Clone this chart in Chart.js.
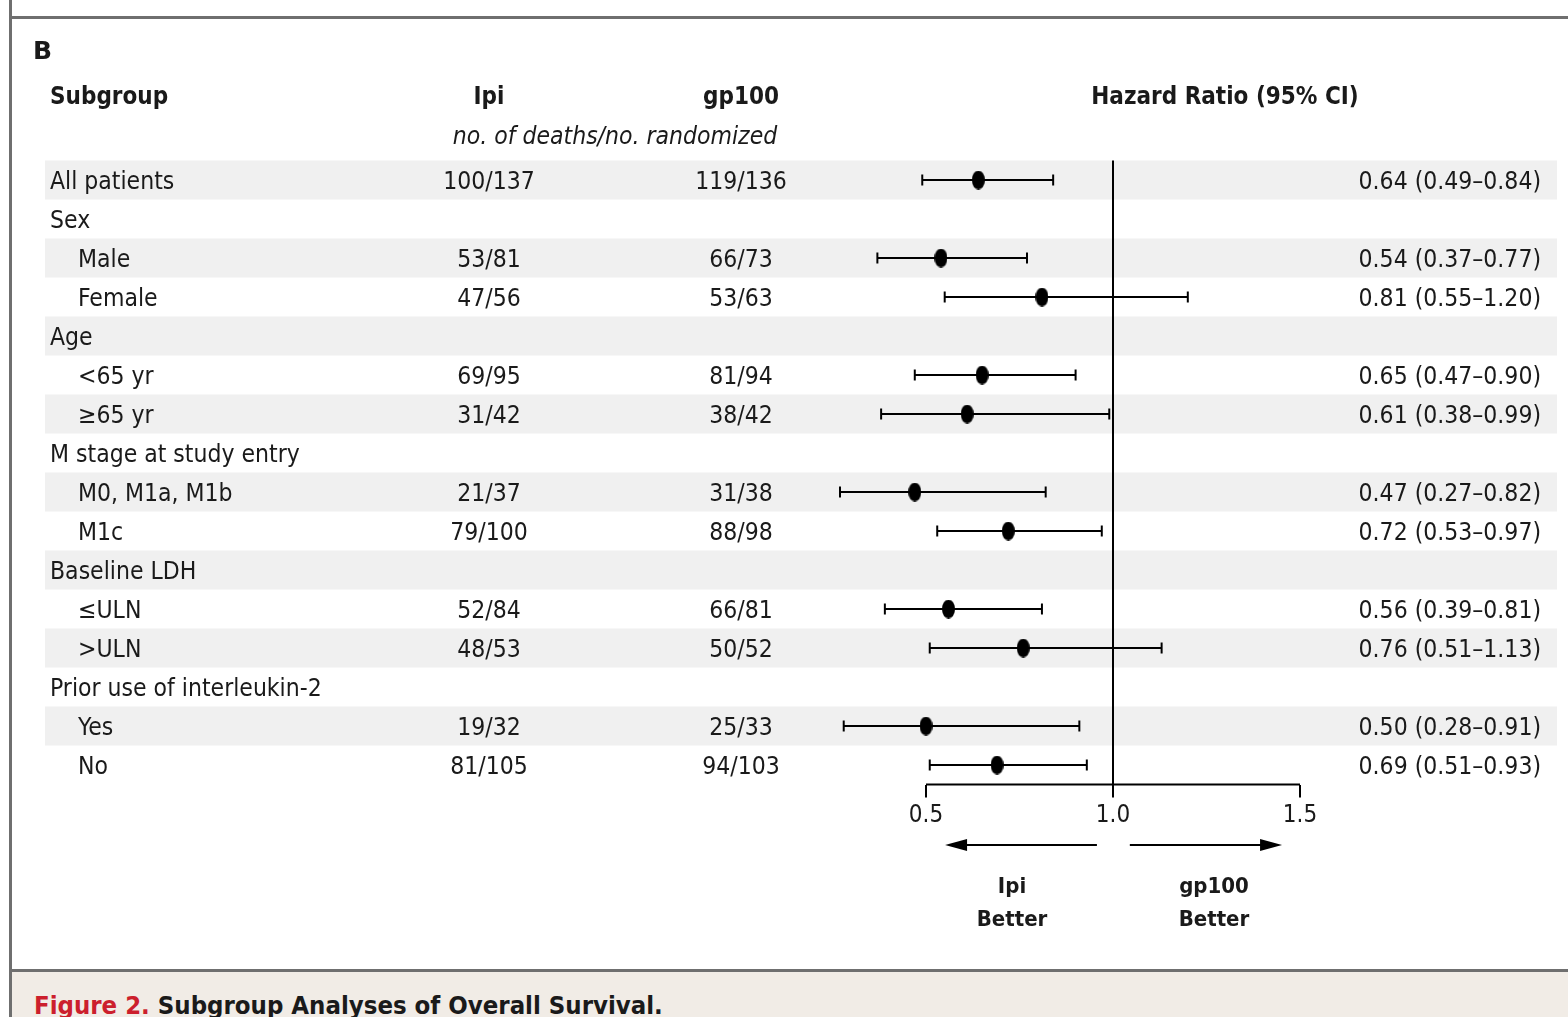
<!DOCTYPE html>
<html>
<head>
<meta charset="utf-8">
<title>Subgroup Analyses of Overall Survival</title>
<script src="https://cdn.jsdelivr.net/npm/chart.js@4.4.1/dist/chart.umd.min.js"></script>
<style>
  html, body { margin: 0; padding: 0; background: #fff; }
  body { width: 1568px; height: 1017px; position: relative; overflow: hidden; }
  .rule-left { position: absolute; left: 9px; top: 0; width: 3px; height: 1017px; background: #6f6f6f; }
  .rule-top { position: absolute; left: 9px; right: 0; top: 16px; height: 3px; background: #6f6f6f; }
  .caption {
    position: absolute; left: 12px; right: 0; top: 969px; bottom: 0;
    background: #f1ece6; border-top: 3px solid #6f6f6f;
  }
  .caption p {
    position: absolute; left: 22px; top: 20px; margin: 0;
    font: bold 25.5px/26px "DejaVu Sans Condensed", "DejaVu Sans", sans-serif;
    color: #1a1a1a; white-space: nowrap;
  }
  .caption .fig { color: #cc1f2d; }
  #forest { position: absolute; left: 0; top: 0; }
</style>
</head>
<body>
<div class="rule-left"></div>
<div class="rule-top"></div>
<div class="caption"><p><span class="fig">Figure 2.</span> Subgroup Analyses of Overall Survival.</p></div>
<canvas id="forest" width="1568" height="1017"></canvas>

<script>
// table rows, top to bottom
const subgroups = [
  'All patients', 'Sex', 'Male', 'Female', 'Age', '<65 yr', '\u226565 yr',
  'M stage at study entry', 'M0, M1a, M1b', 'M1c', 'Baseline LDH',
  '\u2264ULN', '>ULN', 'Prior use of interleukin-2', 'Yes', 'No'
];
const indented = [false, false, true, true, false, true, true, false, true, true, false, true, true, false, true, true];
const ipiCounts = ['100/137', '', '53/81', '47/56', '', '69/95', '31/42', '', '21/37', '79/100', '', '52/84', '48/53', '', '19/32', '81/105'];
const gp100Counts = ['119/136', '', '66/73', '53/63', '', '81/94', '38/42', '', '31/38', '88/98', '', '66/81', '50/52', '', '25/33', '94/103'];
const hazardRatio = [0.64, null, 0.54, 0.81, null, 0.65, 0.61, null, 0.47, 0.72, null, 0.56, 0.76, null, 0.50, 0.69];
const ciLower = [0.49, null, 0.37, 0.55, null, 0.47, 0.38, null, 0.27, 0.53, null, 0.39, 0.51, null, 0.28, 0.51];
const ciUpper = [0.84, null, 0.77, 1.20, null, 0.90, 0.99, null, 0.82, 0.97, null, 0.81, 1.13, null, 0.91, 0.93];
const xTicks = [0.5, 1.0, 1.5];

const FAMILY = '"DejaVu Sans Condensed", "DejaVu Sans", sans-serif';
const INK = '#1a1a1a';

// page geometry
const AXIS_LEFT = 926, AXIS_RIGHT = 1300;   // pixels of 0.5 and 1.5
const X_MIN = 0.2, X_MAX = 1.6;
const PX_PER_UNIT = (AXIS_RIGHT - AXIS_LEFT) / (xTicks[2] - xTicks[0]);
const COL = { label: 50, indent: 78, ipi: 489, gp100: 741, hr: 1541, shadeLeft: 45, shadeRight: 1557 };

function makeDot(w, h) {
  const c = document.createElement('canvas');
  c.width = w;
  c.height = h;
  const g = c.getContext('2d');
  g.fillStyle = '#000';
  g.beginPath();
  g.ellipse(w / 2, h / 2, w / 2, h / 2, 0, 0, Math.PI * 2);
  g.fill();
  return c;
}

const fmt = v => v.toFixed(2);

const rows = subgroups.map((_, i) => i);
const ciDatasets = rows
  .filter(i => hazardRatio[i] !== null)
  .map(i => ({
    data: [{ x: ciLower[i], y: i }, { x: ciUpper[i], y: i }],
    showLine: true,
    borderColor: '#000',
    borderWidth: 2,
    pointStyle: 'line',
    pointRotation: 90,
    pointRadius: 5.5,
    pointBorderWidth: 2,
    pointBorderColor: '#000',
    clip: false,
    order: 1
  }));

const tablePlugin = {
  id: 'forestTable',
  beforeDraw(chart) {
    const { ctx, scales: { y } } = chart;
    const step = Math.abs(y.getPixelForValue(1) - y.getPixelForValue(0));
    ctx.save();
    ctx.fillStyle = '#f0f0f0';
    rows.forEach(i => {
      if (i % 2) return;
      const cy = y.getPixelForValue(i);
      ctx.fillRect(COL.shadeLeft, cy - step / 2, COL.shadeRight - COL.shadeLeft, step);
    });
    ctx.restore();
  },
  afterDraw(chart) {
    const { ctx, scales: { x, y } } = chart;
    ctx.save();
    ctx.fillStyle = INK;
    ctx.textBaseline = 'alphabetic';

    ctx.font = 'bold 25px "DejaVu Sans", sans-serif';
    ctx.textAlign = 'left';
    ctx.fillText('B', 33, 59);

    // column headers
    ctx.font = `bold 24px ${FAMILY}`;
    ctx.fillText('Subgroup', COL.label, 104);
    ctx.textAlign = 'center';
    ctx.fillText('Ipi', COL.ipi, 104);
    ctx.fillText('gp100', COL.gp100, 104);
    ctx.fillText('Hazard Ratio (95% CI)', 1225, 104);
    ctx.font = `italic 24.5px ${FAMILY}`;
    ctx.fillText('no. of deaths/no. randomized', 615, 144);

    // table body
    ctx.font = `24.5px ${FAMILY}`;
    rows.forEach(i => {
      const base = y.getPixelForValue(i) + 9;
      ctx.textAlign = 'left';
      ctx.fillText(subgroups[i], indented[i] ? COL.indent : COL.label, base);
      ctx.textAlign = 'center';
      if (ipiCounts[i]) ctx.fillText(ipiCounts[i], COL.ipi, base);
      if (gp100Counts[i]) ctx.fillText(gp100Counts[i], COL.gp100, base);
      if (hazardRatio[i] !== null) {
        ctx.textAlign = 'right';
        ctx.fillText(`${fmt(hazardRatio[i])} (${fmt(ciLower[i])}\u2013${fmt(ciUpper[i])})`, COL.hr, base);
      }
    });

    // direction arrows under the axis
    const ay = 845;
    const arrow = (from, to) => {
      const x0 = x.getPixelForValue(from), x1 = x.getPixelForValue(to);
      const dir = Math.sign(x1 - x0);
      ctx.strokeStyle = '#000';
      ctx.lineWidth = 2;
      ctx.beginPath();
      ctx.moveTo(x0, ay);
      ctx.lineTo(x1 - dir * 16, ay);
      ctx.stroke();
      ctx.fillStyle = '#000';
      ctx.beginPath();
      ctx.moveTo(x1, ay);
      ctx.lineTo(x1 - dir * 22, ay - 6);
      ctx.lineTo(x1 - dir * 22, ay + 6);
      ctx.closePath();
      ctx.fill();
    };
    arrow(0.957, 0.551);
    arrow(1.045, 1.452);

    ctx.fillStyle = INK;
    ctx.textAlign = 'center';
    ctx.font = `bold 22px ${FAMILY}`;
    ctx.fillText('Ipi', x.getPixelForValue(0.73), 893);
    ctx.fillText('Better', x.getPixelForValue(0.73), 926);
    ctx.fillText('gp100', x.getPixelForValue(1.27), 893);
    ctx.fillText('Better', x.getPixelForValue(1.27), 926);
    ctx.restore();
  }
};

const padLeft = AXIS_LEFT - (xTicks[0] - X_MIN) * PX_PER_UNIT;
const padRight = 1568 - (AXIS_RIGHT + (X_MAX - xTicks[2]) * PX_PER_UNIT);

new Chart(document.getElementById('forest'), {
  type: 'scatter',
  data: {
    datasets: [
      {
        // point estimates
        data: rows.filter(i => hazardRatio[i] !== null).map(i => ({ x: hazardRatio[i], y: i })),
        pointStyle: makeDot(13, 19),
        pointRadius: 7,
        clip: false,
        order: 0
      },
      ...ciDatasets,
      {
        // line of no effect
        data: [{ x: 1, y: -0.5 }, { x: 1, y: subgroups.length - 0.5 }],
        showLine: true,
        borderColor: '#000',
        borderWidth: 2,
        pointRadius: 0,
        clip: false,
        order: 2
      },
      {
        // axis baseline, 0.5 to 1.5 only
        data: [{ x: xTicks[0], y: subgroups.length - 0.5 }, { x: xTicks[2], y: subgroups.length - 0.5 }],
        showLine: true,
        borderColor: '#000',
        borderWidth: 2,
        pointRadius: 0,
        clip: false,
        order: 2
      }
    ]
  },
  options: {
    responsive: false,
    devicePixelRatio: 1,
    animation: false,
    events: [],
    layout: { padding: { left: padLeft, right: padRight, top: 160.5, bottom: 172.5 } },
    plugins: { legend: { display: false }, tooltip: { enabled: false } },
    scales: {
      x: {
        type: 'linear',
        position: 'bottom',
        min: X_MIN,
        max: X_MAX,
        afterBuildTicks: s => { s.ticks = xTicks.map(v => ({ value: v })); },
        afterFit: s => { s.height = 60; },
        ticks: {
          callback: v => v.toFixed(1),
          font: { family: FAMILY, size: 24 },
          color: INK,
          padding: 4,
          maxRotation: 0,
          autoSkip: false
        },
        grid: { drawOnChartArea: false, drawTicks: true, tickLength: 13, color: '#000', lineWidth: 2 },
        border: { display: false }
      },
      y: {
        type: 'linear',
        min: -0.5,
        max: subgroups.length - 0.5,
        reverse: true,
        display: false
      }
    }
  },
  plugins: [tablePlugin]
});
</script>
</body>
</html>
